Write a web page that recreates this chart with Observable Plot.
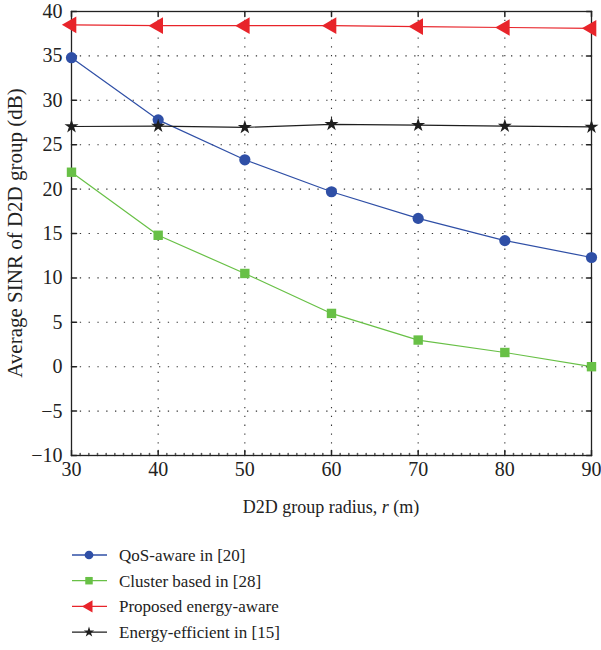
<!DOCTYPE html>
<html>
<head>
<meta charset="utf-8">
<script src="https://cdn.jsdelivr.net/npm/d3@7"></script>
<script src="https://cdn.jsdelivr.net/npm/@observablehq/plot@0.6"></script>
<style>
  body { margin: 0; background: #fff; }
  #chart { width: 601px; font-family: "Liberation Serif", "DejaVu Serif", serif; }
  svg { display: block; }
</style>
</head>
<body>
<div id="chart"></div>
<script>
const radius = [30, 40, 50, 60, 70, 80, 90];
const qosAware = [34.8, 27.8, 23.3, 19.7, 16.7, 14.2, 12.3];
const clusterBased = [21.9, 14.8, 10.5, 6.0, 3.0, 1.6, 0.0];
const proposedEnergy = [38.5, 38.4, 38.4, 38.4, 38.3, 38.2, 38.1];
const energyEfficient = [27.05, 27.1, 26.95, 27.3, 27.2, 27.1, 27.0];
const xTicks = [30, 40, 50, 60, 70, 80, 90];
const yTicks = [-10, -5, 0, 5, 10, 15, 20, 25, 30, 35, 40];
const seriesNames = ["QoS-aware in [20]", "Cluster based in [28]", "Proposed energy-aware", "Energy-efficient in [15]"];

const series = [
  {name: seriesNames[0], values: qosAware, color: "#2f4fa6", symbol: "circle", r: 5.6, rotate: 0, lsize: 60},
  {name: seriesNames[1], values: clusterBased, color: "#68c046", symbol: "square", r: 5.3, rotate: 0, lsize: 56},
  {name: seriesNames[2], values: proposedEnergy, color: "#e8242a", symbol: "triangle", r: 6.2, rotate: -90, lsize: 64},
  {name: seriesNames[3], values: energyEfficient, color: "#1e1e1e", symbol: "star", r: 4.4, rotate: 0, lsize: 34}
];

const tickShape = {draw(context, l) { context.moveTo(0, 0); context.lineTo(0, -l); }};
const minorX = d3.range(30, 91, 1).filter(v => v % 10 !== 0);

const marks = [
  Plot.gridX(xTicks.slice(1, -1), {stroke: "#333", strokeOpacity: 1, strokeWidth: 1.1, strokeDasharray: "1.3,7.5"}),
  Plot.gridY(yTicks.slice(1, -1), {stroke: "#333", strokeOpacity: 1, strokeWidth: 1.1, strokeDasharray: "1.3,7.5"}),
  Plot.vector(yTicks, {x: () => 30, y: d => d, length: 5, rotate: 90, anchor: "start", shape: tickShape, stroke: "#222"}),
  Plot.vector(yTicks, {x: () => 90, y: d => d, length: 5, rotate: -90, anchor: "start", shape: tickShape, stroke: "#222"}),
  Plot.vector(xTicks, {x: d => d, y: () => -10, length: 5, rotate: 0, anchor: "start", shape: tickShape, stroke: "#222"}),
  Plot.vector(xTicks, {x: d => d, y: () => 40, length: 5, rotate: 180, anchor: "start", shape: tickShape, stroke: "#222"}),
  Plot.vector(minorX, {x: d => d, y: () => -10, length: 2, rotate: 0, anchor: "start", shape: tickShape, stroke: "#555"}),
  Plot.frame({stroke: "#222", strokeWidth: 1.3}),
  Plot.axisX({ticks: xTicks, tickSize: 0, tickPadding: 6, label: null, tickFormat: d => d}),
  Plot.axisY({ticks: yTicks, tickSize: 0, tickPadding: 9, label: null}),
  ...series.map(s => Plot.line(radius, {x: d => d, y: (d, i) => s.values[i], stroke: s.color, strokeWidth: 1.2})),
  ...series.map(s => Plot.dot(radius, {x: d => d, y: (d, i) => s.values[i], fill: s.color, stroke: "none", symbol: s.symbol, r: s.r, rotate: s.rotate}))
];

const plot = Plot.plot({
  width: 601,
  height: 520,
  marginLeft: 71,
  marginRight: 10,
  marginTop: 11,
  marginBottom: 65,
  style: {fontFamily: "Liberation Serif, DejaVu Serif, serif", background: "#fff", overflow: "visible"},
  x: {domain: [30, 90]},
  y: {domain: [-10, 40]},
  marks
});

const svg = d3.select(plot);
svg.selectAll("g[aria-label='x-axis tick label'], g[aria-label='y-axis tick label']")
  .attr("font-size", 20).style("font-size", "20px").attr("fill", "#222");
svg.selectAll("g[aria-label='x-axis tick label'] text, g[aria-label='y-axis tick label'] text")
  .style("font-size", "20px").attr("fill", "#222");

const xl = svg.append("text")
  .attr("x", 331).attr("y", 513)
  .attr("text-anchor", "middle")
  .style("font-size", "18px").attr("fill", "#222")
  .attr("font-family", "Liberation Serif, DejaVu Serif, serif");
xl.append("tspan").text("D2D group radius, ");
xl.append("tspan").attr("font-style", "italic").text("r");
xl.append("tspan").text(" (m)");

svg.append("text")
  .attr("transform", "translate(22,233) rotate(-90)")
  .attr("text-anchor", "middle")
  .style("font-size", "21px").attr("fill", "#222")
  .attr("font-family", "Liberation Serif, DejaVu Serif, serif")
  .text("Average SINR of D2D group (dB)");

document.getElementById("chart").appendChild(plot);

// Legend below the chart
const legend = d3.create("svg").attr("width", 601).attr("height", 130);
const symbolMap = {circle: d3.symbolCircle, square: d3.symbolSquare, triangle: d3.symbolTriangle, star: d3.symbolStar};
series.forEach((s, i) => {
  const y = 35 + i * 25.7;
  const g = legend.append("g").attr("transform", `translate(0,${y})`);
  g.append("line").attr("x1", 72).attr("x2", 107).attr("y1", 0).attr("y2", 0).attr("stroke", s.color).attr("stroke-width", 1.3);
  g.append("path").attr("d", d3.symbol(symbolMap[s.symbol], s.lsize)())
    .attr("transform", `translate(89,0) rotate(${s.rotate})`)
    .attr("fill", s.color);
  g.append("text").attr("x", 119).attr("y", 6).style("font-size", "17px").attr("fill", "#222")
    .attr("font-family", "Liberation Serif, DejaVu Serif, serif").text(s.name);
});
document.getElementById("chart").appendChild(legend.node());
</script>
</body>
</html>
